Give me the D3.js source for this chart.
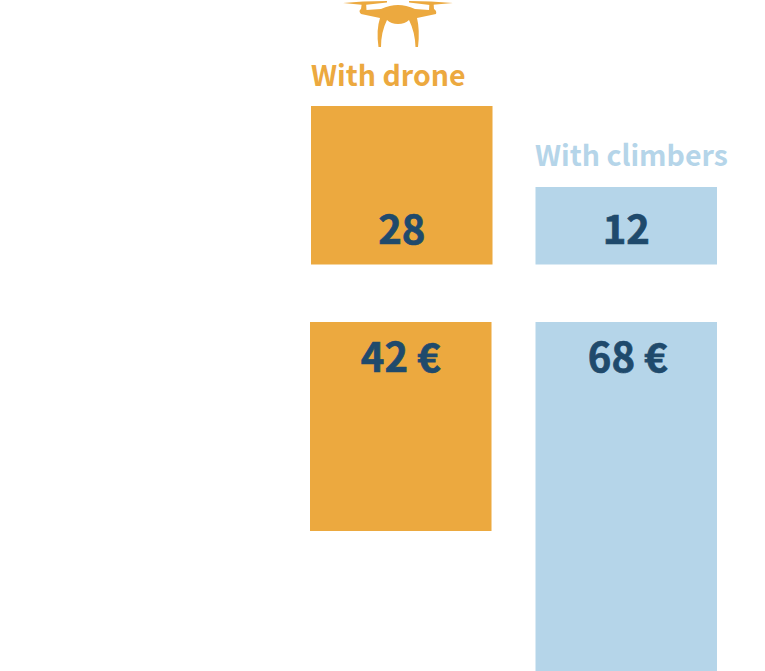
<!DOCTYPE html>
<html>
<head>
<meta charset="utf-8">
<script src="https://cdn.jsdelivr.net/npm/d3@7"></script>
<style>
  html, body { margin: 0; padding: 0; background: #fff; }
  text { font-family: "Noto Sans CJK SC", "Noto Sans", sans-serif; font-weight: 700; }
</style>
</head>
<body>
<div id="chart"></div>
<script>
var methods = ["With drone", "With climbers"];
var days = [28, 12];
var costs = [42, 68];
var dayLabels = ["28", "12"];
var costLabels = ["42 €", "68 €"];
var colors = ["#eca93f", "#b5d5e9"];
var inkColor = "#1f4a6c";

var width = 765, height = 671;

var svg = d3.select("#chart").append("svg")
  .attr("width", width)
  .attr("height", height)
  .style("display", "block");

// upper panel grows upward from its baseline
var xTop = d3.scaleBand().domain(methods).range([311, 717]).paddingInner(0.1915);
var yDays = d3.scaleLinear().domain([12, 28]).range([187, 106]);
var daysBase = 264.5;

// lower panel hangs down from its top edge, and sits 1px left in the first column
var xBottom = d3.scaleOrdinal().domain(methods).range([310, 535.5]);
var yCosts = d3.scaleLinear().domain([42, 68]).range([531, 671]);
var costsTop = 322;

svg.selectAll("rect.days")
  .data(days)
  .enter().append("rect")
  .attr("class", "days")
  .attr("x", function (d, i) { return xTop(methods[i]); })
  .attr("y", function (d) { return yDays(d); })
  .attr("width", xTop.bandwidth())
  .attr("height", function (d) { return daysBase - yDays(d); })
  .attr("fill", function (d, i) { return colors[i]; });

svg.selectAll("rect.costs")
  .data(costs)
  .enter().append("rect")
  .attr("class", "costs")
  .attr("x", function (d, i) { return xBottom(methods[i]); })
  .attr("y", costsTop)
  .attr("width", xTop.bandwidth())
  .attr("height", function (d) { return yCosts(d) - costsTop; })
  .attr("fill", function (d, i) { return colors[i]; });

// thin stroke brings the digits up to the heavier weight of the original
svg.selectAll("text.days")
  .data(dayLabels)
  .enter().append("text")
  .attr("class", "days")
  .attr("x", function (d, i) { return xTop(methods[i]) + xTop.bandwidth() / 2; })
  .attr("y", 244)
  .attr("text-anchor", "middle")
  .attr("font-size", 40)
  .attr("fill", inkColor)
  .attr("stroke", inkColor)
  .attr("stroke-width", 0.7)
  .text(function (d) { return d; });

// the 68 € label sits a little right of its bar centre
svg.selectAll("text.costs")
  .data(costLabels)
  .enter().append("text")
  .attr("class", "costs")
  .attr("x", function (d, i) { return xBottom(methods[i]) + xTop.bandwidth() / 2 + i * 1.5; })
  .attr("y", 372)
  .attr("text-anchor", "middle")
  .attr("font-size", 40)
  .attr("fill", inkColor)
  .attr("stroke", inkColor)
  .attr("stroke-width", 0.7)
  .text(function (d) { return d; });

// series names
svg.append("text")
  .attr("x", 311).attr("y", 86)
  .attr("font-size", 28.5)
  .attr("fill", colors[0])
  .text(methods[0]);
svg.append("text")
  .attr("x", 535).attr("y", 166)
  .attr("font-size", 28.5)
  .attr("fill", colors[1])
  .text(methods[1]);

// drone icon
var drone = svg.append("g").attr("fill", colors[0]).attr("stroke", "none");
drone.append("path").attr("d", "M343 3 L363 1.5 L387 1 L387 2.5 L364 5 Z M453 3 L431 1.5 L409 1 L409 2.5 L430 5 Z");
drone.append("path").attr("d", "M362 2 H366 L366.5 10 L381 9 Q390 5 398 5 Q406 5 415 9 L429 10 L429.5 2 H433.5 L434 9 Q437 11 436 14 L417 18 Q420 30 418 47 H415.5 Q415 32 409 20 Q405 24 398 24 Q391 24 387 20 Q381 32 381 47 H378.5 Q376 30 380 18 L361 14 Q358 11 361 9 Z");
</script>
</body>
</html>
